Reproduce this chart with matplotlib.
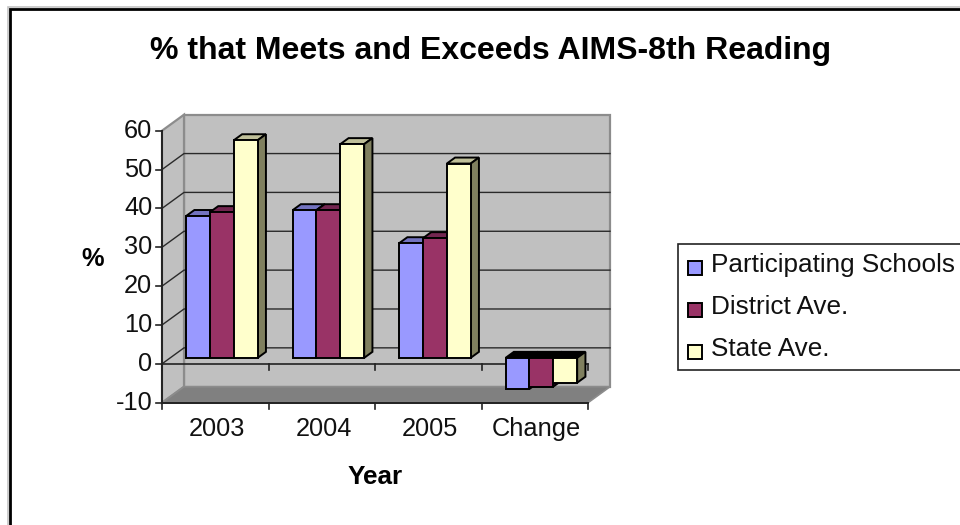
import matplotlib
matplotlib.use("Agg")
import matplotlib.pyplot as plt
from matplotlib.patches import Polygon, Rectangle

plt.rcParams['font.family'] = ['Liberation Sans', 'DejaVu Sans']

categories = ["2003", "2004", "2005", "Change"]
participating = [36.5, 38, 29.5, -8]
district = [37.5, 38, 30.8, -7.4]
state = [56, 55, 50, -6.4]
series_names = ["Participating Schools", "District Ave.", "State Ave."]
series_values = [participating, district, state]
front_colors = ["#9999FF", "#993366", "#FFFFCC"]
top_colors = ["#7373BF", "#732650", "#BFBF99"]
side_colors = ["#5C5C99", "#5C1F3D", "#80805F"]
yticks = [-10, 0, 10, 20, 30, 40, 50, 60]

W, H = 960, 525
fig = plt.figure(figsize=(W/100, H/100), dpi=100, facecolor="white")

# frame of the chart area
bg = fig.add_axes([0, 0, 1, 1], zorder=0)
bg.set_xlim(0, W); bg.set_ylim(H, 0); bg.axis("off")
bg.add_patch(Rectangle((8.2, 7.2), 1000, 600, fc="white", ec="#C4C4C4", lw=1.2))
bg.add_patch(Rectangle((10, 9), 1000, 600, fc="white", ec="black", lw=2.0))

# front plane of the plot, pixel box
L, R, T, B = 162, 588, 130.7, 402.7
ax = fig.add_axes([L/W, 1-B/H, (R-L)/W, (B-T)/H], zorder=1)
ax.set_xlim(0, 4); ax.set_ylim(-10, 60)
ax.axis("off")
ax.patch.set_alpha(0)

DX = 22/(R-L)*4     # depth offset in category units
DY = 16/(B-T)*70    # depth offset in value units

def P(x, y, d=0.0):
    return (x + DX*d, y + DY*d)

def poly(pts, fc, ec="black", lw=1.4, z=2):
    ax.add_patch(Polygon(pts, closed=True, fc=fc, ec=ec, lw=lw, zorder=z,
                         clip_on=False, joinstyle="miter"))

wall = "#C0C0C0"
edge = "#8C8C8C"
# back wall, left wall, floor
poly([P(0,-10,1), P(4,-10,1), P(4,60,1), P(0,60,1)], wall, edge, 1.6, 1)
poly([P(0,-10,0), P(0,-10,1), P(0,60,1), P(0,60,0)], wall, edge, 1.6, 1)
poly([P(0,-10,0), P(4,-10,0), P(4,-10,1), P(0,-10,1)], "#808080", edge, 1.2, 1)

# gridlines
for v in yticks[1:-1]:
    x0, y0 = P(0, v, 0); x1, y1 = P(0, v, 1); x2, y2 = P(4, v, 1)
    ax.plot([x0, x1, x2], [y0, y1, y1], color="#2A2A2A", lw=1.0, zorder=1.5, clip_on=False)

# axes
ax.plot([0, 0], [-10, 60], color="#222222", lw=1.4, zorder=1.6, clip_on=False)
ax.plot([0, 4], [-10, -10], color="#222222", lw=1.4, zorder=1.6, clip_on=False)
ax.plot([0, 4], [0, 0], color="#222222", lw=1.2, zorder=1.6, clip_on=False)

tlx = 6/(B-T)*70
tly = 6/(R-L)*4
for v in yticks:
    ax.plot([-tly, 0], [v, v], color="#222222", lw=1.2, zorder=1.6, clip_on=False)
    ax.text(-tly-0.035, v, str(v), ha="right", va="center", fontsize=18.3, color="#111111", clip_on=False)
for i in range(5):
    ax.plot([i, i], [0, -tlx], color="#222222", lw=1.2, zorder=1.6, clip_on=False)
    ax.plot([i, i], [-10, -10-tlx], color="#222222", lw=1.2, zorder=1.6, clip_on=False)

# bars
d0, d1 = 0.375, 0.75
bw = 0.224
z = 3
for c in range(len(categories)):
    for s, values in enumerate(series_values):
        v = values[c]
        x0 = c + 0.5 - 0.015 + (s-1.5)*bw
        x1 = x0 + bw
        top = max(v, 0); bot = min(v, 0)
        top_c = top_colors[s] if v > 0 else "black"
        poly([P(x0, top, d0), P(x1, top, d0), P(x1, top, d1), P(x0, top, d1)], top_c, z=z)
        poly([P(x1, bot, d0), P(x1, bot, d1), P(x1, top, d1), P(x1, top, d0)], side_colors[s], z=z)
        poly([P(x0, bot, d0), P(x1, bot, d0), P(x1, top, d0), P(x0, top, d0)], front_colors[s], z=z+0.5)
        z += 1

# text
bg.text(491, 51, "% that Meets and Exceeds AIMS-8th Reading", ha="center", va="center",
        fontsize=23, fontweight="bold", color="black")
bg.text(93, 259, "%", ha="center", va="center", fontsize=18.3, fontweight="bold", color="black")
bg.text(375, 477, "Year", ha="center", va="center", fontsize=18.8, fontweight="bold", color="black")
for i, c in enumerate(categories):
    bg.text(L+(R-L)*(i+0.5)/4+2, 429, c, ha="center", va="center", fontsize=18.3, color="#111111")

# legend, drawn on the frame layer
bg.add_patch(Rectangle((678, 244), 400, 126, fc="white", ec="#222222", lw=1.2))
for y, n, c in zip([265, 307.5, 349.5], series_names, front_colors):
    bg.add_patch(Rectangle((688, y-4.5), 14, 14, fc=c, ec="black", lw=1.4))
    bg.text(711, y, n, ha="left", va="center", fontsize=18.8, color="#111111")

fig.savefig("out.png", dpi=100)
